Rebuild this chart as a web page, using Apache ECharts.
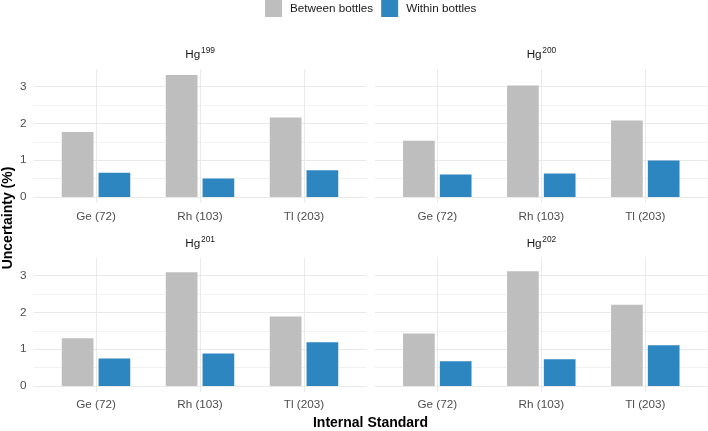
<!DOCTYPE html>
<html>
<head>
<meta charset="utf-8">
<script src="https://cdn.jsdelivr.net/npm/echarts@6/dist/echarts.min.js"></script>
<style>
html,body{margin:0;padding:0;background:#fff;}
#c{width:708px;height:431px;}
</style>
</head>
<body>
<div id="c"></div>
<script>
// ---- data ----
const categories = ['Ge (72)', 'Rh (103)', 'Tl (203)'];
const isotopes = ['199', '200', '201', '202'];
const seriesNames = ['Between bottles', 'Within bottles'];
const between199 = [1.77, 3.32, 2.16];
const within199  = [0.66, 0.50, 0.73];
const between200 = [1.53, 3.03, 2.08];
const within200  = [0.61, 0.64, 0.99];
const between201 = [1.30, 3.09, 1.89];
const within201  = [0.75, 0.88, 1.19];
const between202 = [1.43, 3.12, 2.21];
const within202  = [0.67, 0.73, 1.11];
const yTicks = [0, 1, 2, 3];

const betweenData = [between199, between200, between201, between202];
const withinData = [within199, within200, within201, within202];

// ---- layout ----
const FONT = 'Liberation Sans, Arial, Helvetica, sans-serif';
const colors = ['#BEBEBE', '#2E86C1'];
const panelLeft = [33.6, 374.9, 33.6, 374.9];
const panelWidth = 332.8;
const panelTop = [68.8, 68.8, 257.8, 257.8];
const labelMargin = [8, 8, 7, 7];
const yMax = 3.486, yMin = -0.166;
const unit = 36.77;
const hPos = yMax * unit;            // height from 0 to max
const hAll = (yMax - yMin) * unit;   // full panel height
const band = panelWidth / 3.2;

const grids = [], xAxes = [], yAxes = [], series = [], graphics = [];
const maj = '#e9e9e9', minr = '#f1f1f1';

for (let p = 0; p < 4; p++) {
  const L = panelLeft[p], T = panelTop[p];
  // background grid (horizontal grid lines + y labels)
  grids.push({left: L, top: T, width: panelWidth, height: hPos, containLabel: false});
  xAxes.push({type: 'value', gridIndex: 2*p, min: 0, max: 1, show: false});
  yAxes.push({
    type: 'value', gridIndex: 2*p, min: 0, max: yMax, interval: 0.5,
    axisLine: {show: false}, axisTick: {show: false},
    axisLabel: {
      show: (p % 2 === 0), margin: 7, color: '#4d4d4d', fontSize: 11.7, fontFamily: FONT,
      formatter: v => (yTicks.indexOf(Math.round(v*1000)/1000) >= 0 ? String(v) : '')
    },
    splitLine: {show: true, lineStyle: {width: 1, color: [maj, minr, maj, minr, maj, minr, maj, 'rgba(0,0,0,0)']}}
  });
  // bar grid
  grids.push({left: L + 0.1*band, top: T, width: 3*band, height: hAll, containLabel: false});
  xAxes.push({
    type: 'category', gridIndex: 2*p+1, data: categories,
    axisLine: {show: false}, axisTick: {show: false},
    axisLabel: {margin: labelMargin[p], color: '#4d4d4d', fontSize: 11.7, fontFamily: FONT},
    splitLine: {show: true, alignWithLabel: true, lineStyle: {color: maj, width: 1}}
  });
  yAxes.push({type: 'value', gridIndex: 2*p+1, min: yMin, max: yMax, show: false, splitLine: {show: false}});
  series.push({
    name: seriesNames[0], type: 'bar', xAxisIndex: 2*p+1, yAxisIndex: 2*p+1,
    data: betweenData[p], barWidth: 31.7, barGap: '16%', itemStyle: {color: colors[0]}, silent: true
  });
  series.push({
    name: seriesNames[1], type: 'bar', xAxisIndex: 2*p+1, yAxisIndex: 2*p+1,
    data: withinData[p], barWidth: 31.7, barGap: '16%', itemStyle: {color: colors[1]}, silent: true
  });
  // strip title Hg^iso
  const cx = L + panelWidth/2;
  const cy = T - 14.5;
  graphics.push({type: 'text', x: cx + 0.3, y: cy, style: {text: 'Hg', fill: '#1a1a1a', font: '11.7px ' + FONT, textAlign: 'right', textVerticalAlign: 'middle'}});
  graphics.push({type: 'text', x: cx + 1, y: cy - 4, style: {text: isotopes[p], fill: '#1a1a1a', font: '8.4px ' + FONT, textAlign: 'left', textVerticalAlign: 'middle'}});
}

// axis titles
graphics.push({type: 'text', x: 370.5, y: 423, style: {text: 'Internal Standard', fill: '#000', font: 'bold 14px ' + FONT, textAlign: 'center', textVerticalAlign: 'middle'}});
graphics.push({type: 'text', x: 8, y: 218, rotation: Math.PI/2, style: {text: 'Uncertainty (%)', fill: '#000', font: 'bold 14px ' + FONT, textAlign: 'center', textVerticalAlign: 'middle'}});

const chart = echarts.init(document.getElementById('c'), null, {renderer: 'canvas'});
chart.setOption({
  animation: false,
  backgroundColor: '#fff',
  legend: {
    data: seriesNames, left: 265, top: 0, padding: 0, itemWidth: 17, itemHeight: 17, itemGap: 8,
    icon: 'rect', selectedMode: false,
    textStyle: {fontSize: 11.7, fontFamily: FONT, color: '#1a1a1a', padding: [0, 0, 0, 3]}
  },
  grid: grids, xAxis: xAxes, yAxis: yAxes, series: series,
  graphic: graphics
});
</script>
</body>
</html>
